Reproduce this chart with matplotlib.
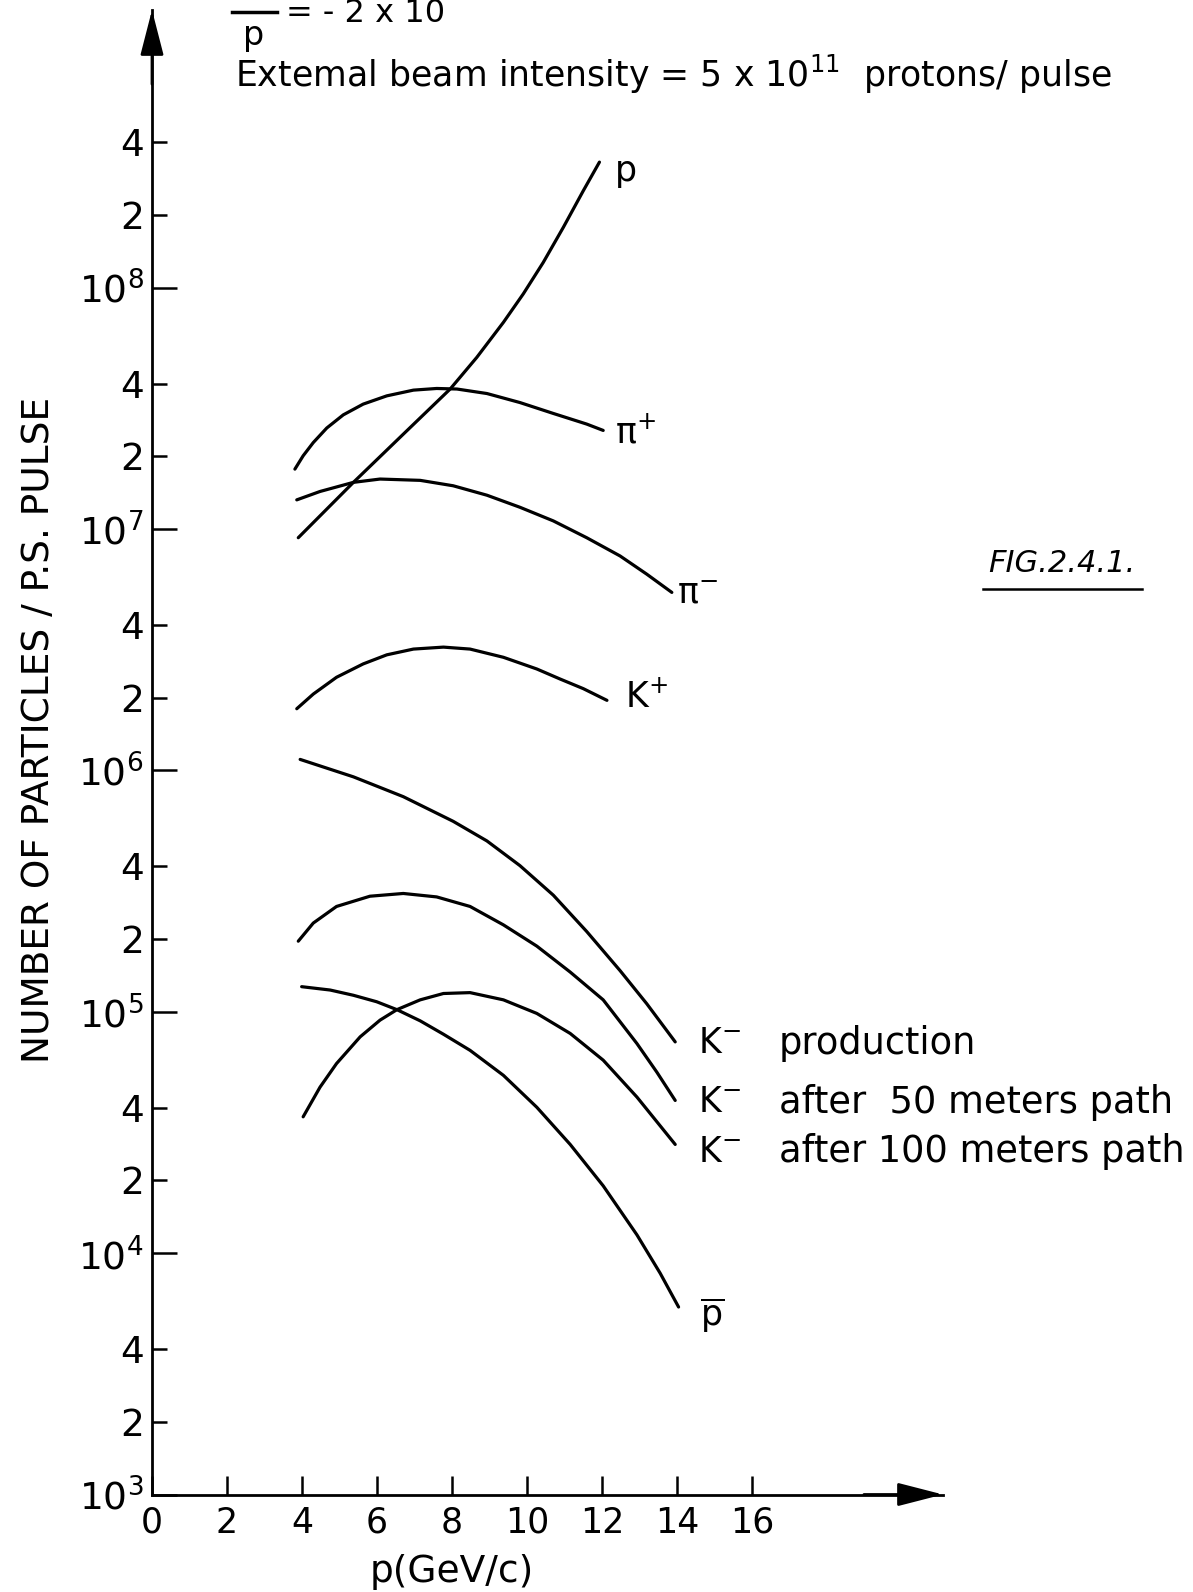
import matplotlib.pyplot as plt
from matplotlib.lines import Line2D

plt.rcParams['font.family'] = ['DejaVu Sans']
plt.rcParams['mathtext.default'] = 'regular'

# momentum (GeV/c) and particles per PS pulse
p_mom = [3.90, 5.37, 6.70, 7.95, 8.66, 9.37, 9.90, 10.43, 10.97, 11.50, 11.93]
p_num = [9.2e6, 1.56e7, 2.47e7, 3.80e7, 5.14e7, 7.18e7, 9.42e7, 1.27e8, 1.78e8, 2.52e8, 3.31e8]

pip_mom = [3.81, 4.03, 4.30, 4.66, 5.10, 5.63, 6.26, 6.97, 7.59, 8.13, 8.93, 9.81, 10.70, 11.59, 12.03]
pip_num = [1.77e7, 2.01e7, 2.28e7, 2.62e7, 2.97e7, 3.29e7, 3.56e7, 3.76e7, 3.82e7, 3.80e7,
           3.64e7, 3.34e7, 3.01e7, 2.72e7, 2.56e7]

pim_mom = [3.86, 4.48, 5.37, 6.08, 7.15, 8.03, 8.93, 9.81, 10.70, 11.59, 12.48, 13.19, 13.86]
pim_num = [1.32e7, 1.43e7, 1.56e7, 1.61e7, 1.59e7, 1.51e7, 1.38e7, 1.23e7, 1.08e7, 9.2e6,
           7.73e6, 6.50e6, 5.46e6]

kp_mom = [3.86, 4.30, 4.92, 5.63, 6.26, 6.97, 7.77, 8.48, 9.37, 10.26, 10.88, 11.50, 12.13]
kp_num = [1.80e6, 2.07e6, 2.43e6, 2.76e6, 3.01e6, 3.18e6, 3.24e6, 3.18e6, 2.94e6, 2.63e6,
          2.39e6, 2.18e6, 1.95e6]

km_prod_mom = [3.95, 5.37, 6.70, 8.03, 8.93, 9.81, 10.70, 11.59, 12.48, 13.19, 13.95]
km_prod_num = [1.11e6, 9.40e5, 7.78e5, 6.15e5, 5.10e5, 4.03e5, 3.04e5, 2.15e5, 1.48e5, 1.08e5, 7.50e4]

km_50_mom = [3.90, 4.30, 4.92, 5.81, 6.70, 7.59, 8.48, 9.37, 10.26, 11.15, 12.03, 12.93, 13.46, 13.95]
km_50_num = [1.96e5, 2.33e5, 2.73e5, 3.01e5, 3.09e5, 2.99e5, 2.73e5, 2.29e5, 1.87e5, 1.46e5,
             1.12e5, 7.38e4, 5.62e4, 4.29e4]

km_100_mom = [4.03, 4.48, 4.92, 5.55, 6.08, 6.53, 7.15, 7.77, 8.48, 9.37, 10.26, 11.15, 12.03, 12.93, 13.95]
km_100_num = [3.67e4, 4.87e4, 6.10e4, 7.87e4, 9.23e4, 1.02e5, 1.12e5, 1.19e5, 1.20e5, 1.12e5,
              9.84e4, 8.13e4, 6.30e4, 4.43e4, 2.82e4]

pbar_mom = [3.99, 4.75, 5.37, 5.99, 6.53, 7.15, 7.77, 8.48, 9.37, 10.26, 11.15, 12.03, 12.93, 13.55, 14.04]
pbar_num = [1.27e5, 1.23e5, 1.17e5, 1.10e5, 1.02e5, 9.17e4, 8.07e4, 6.92e4, 5.45e4, 4.02e4,
            2.82e4, 1.90e4, 1.19e4, 8.25e3, 5.98e3]

x_ticks = [0, 2, 4, 6, 8, 10, 12, 14, 16]
y_major = [1e3, 1e4, 1e5, 1e6, 1e7, 1e8]
y_major_labels = ['$10^{3}$', '$10^{4}$', '$10^{5}$', '$10^{6}$', '$10^{7}$', '$10^{8}$']
y_minor = [2e3, 4e3, 2e4, 4e4, 2e5, 4e5, 2e6, 4e6, 2e7, 4e7, 2e8, 4e8]
y_minor_labels = ['2', '4'] * 6

W, H = 1193, 1592
fig = plt.figure(figsize=(W / 100, H / 100), dpi=100)
ax = fig.add_axes([152 / W, 1 - 1494.5 / H, (943 - 152) / W, (1494.5 - 10) / H])
ax.set_yscale('log')
ax.set_xlim(0, 21.09)
ax.set_ylim(1e3, 10 ** 9.15)

for s in ['top', 'right']:
    ax.spines[s].set_visible(False)
for s in ['left', 'bottom']:
    ax.spines[s].set_linewidth(2)

ax.set_xticks(x_ticks)
ax.set_xticklabels([str(t) for t in x_ticks])
ax.set_yticks(y_major)
ax.set_yticklabels(y_major_labels)
ax.set_yticks(y_minor, minor=True)
ax.set_yticklabels(y_minor_labels, minor=True)
ax.tick_params(axis='x', direction='in', length=14, width=1.8, labelsize=25, pad=8)
ax.tick_params(axis='y', which='major', direction='in', length=18, width=1.8, labelsize=27, pad=6)
ax.tick_params(axis='y', which='minor', direction='in', length=11, width=1.8, labelsize=27, pad=6)

# arrow heads on both axes
arrow = dict(arrowstyle='-|>,head_length=1.4,head_width=0.36', color='k', lw=2,
             mutation_scale=20, shrinkA=0, shrinkB=0)
ax.annotate('', xy=(1.0, 0), xytext=(0.9, 0), xycoords='axes fraction', arrowprops=arrow)
ax.annotate('', xy=(0, 1.0), xytext=(0, 0.95), xycoords='axes fraction', arrowprops=arrow)

curves = [
    (p_mom, p_num), (pip_mom, pip_num), (pim_mom, pim_num), (kp_mom, kp_num),
    (km_prod_mom, km_prod_num), (km_50_mom, km_50_num), (km_100_mom, km_100_num),
    (pbar_mom, pbar_num),
]
for xs, ys in curves:
    ax.plot(xs, ys, color='k', lw=2.3, solid_capstyle='round', solid_joinstyle='round')

lab = dict(fontsize=25, va='center', ha='left')
ax.text(12.35, 10 ** 8.485, 'p', **lab)
ax.text(12.35, 10 ** 7.40, 'π$^{+}$', **lab)
ax.text(13.99, 10 ** 6.73, 'π$^{-}$', **lab)
ax.text(12.61, 10 ** 6.305, 'K$^{+}$', **lab)
ax.text(14.56, 10 ** 4.87, 'K$^{-}$', **lab)
ax.text(14.56, 10 ** 4.625, 'K$^{-}$', **lab)
ax.text(14.56, 10 ** 4.42, 'K$^{-}$', **lab)
desc = dict(fontsize=26.5, va='center', ha='left')
ax.text(16.71, 10 ** 4.87, 'production', **desc)
ax.text(16.71, 10 ** 4.625, 'after  50 meters path', **desc)
ax.text(16.71, 10 ** 4.42, 'after 100 meters path', **desc)
ax.text(14.6, 10 ** 3.745, r'$\overline{p}$', **lab)

# texts around the axes
fig.text(39 / W, 1 - 730 / H, 'NUMBER OF PARTICLES / P.S. PULSE', rotation=90,
         ha='center', va='center', fontsize=27)
fig.text(452 / W, 1 - 1572 / H, 'p(GeV/c)', ha='center', va='center', fontsize=27)
fig.text(235 / W, 1 - 74 / H, 'Extemal beam intensity = 5 x 10$^{11}$  protons/ pulse',
         ha='left', va='center', fontsize=25)
fig.text(254 / W, 1 - 36 / H, 'p', ha='center', va='center', fontsize=24)
fig.add_artist(Line2D([232 / W, 277 / W], [1 - 12 / H, 1 - 12 / H], color='k', lw=2.5))
fig.text(286 / W, 1 - 22 / H, '= - 2 x 10', ha='left', va='baseline', fontsize=23)
fig.text(1062 / W, 1 - 563 / H, 'FIG.2.4.1.', ha='center', va='center', fontsize=22, style='italic')
fig.add_artist(Line2D([983 / W, 1142 / W], [1 - 589 / H, 1 - 589 / H], color='k', lw=1.8))

fig.savefig('out.png', dpi=100)
